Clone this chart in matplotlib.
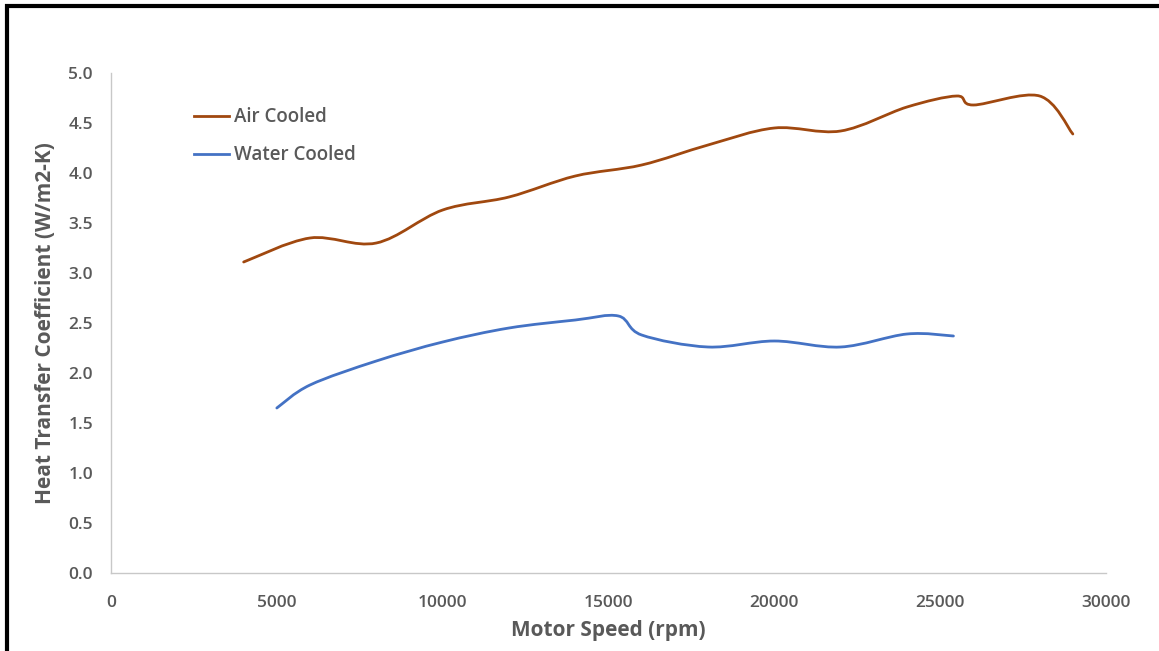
import matplotlib
matplotlib.use("Agg")
import matplotlib.pyplot as plt
from matplotlib.path import Path
from matplotlib.patches import PathPatch
from matplotlib.lines import Line2D
import numpy as np

# ---- data ----
air_speed = [4000, 6000, 8000, 10000, 12000, 14000, 16000, 18000, 20000, 22000, 24000, 25500, 26000, 28000, 29000]
air_htc = [3.11, 3.35, 3.30, 3.63, 3.76, 3.97, 4.08, 4.28, 4.45, 4.42, 4.66, 4.77, 4.68, 4.77, 4.39]
water_speed = [5000, 6000, 8000, 10000, 12000, 14000, 15300, 16000, 18000, 20000, 22000, 24000, 25400]
water_htc = [1.65, 1.88, 2.12, 2.31, 2.45, 2.53, 2.57, 2.38, 2.26, 2.32, 2.26, 2.39, 2.37]
series_names = ["Air Cooled", "Water Cooled"]
x_ticks = [0, 5000, 10000, 15000, 20000, 25000, 30000]
y_ticks = [0.0, 0.5, 1.0, 1.5, 2.0, 2.5, 3.0, 3.5, 4.0, 4.5, 5.0]

AIR_C = "#A0480F"
WATER_C = "#4472C4"
TXT_C = "#595959"
FONT = "Open Sans"

plt.rcParams['font.family'] = [FONT, 'DejaVu Sans']

W, H = 1159, 651
fig = plt.figure(figsize=(W / 100, H / 100), dpi=100)
ax = fig.add_axes([111 / W, (H - 573) / H, 995 / W, 500 / H])


def smooth_path(xs, ys):
    """Excel-like smoothed line: cubic Bezier through the points."""
    pts = np.column_stack([xs, ys]).astype(float)
    n = len(pts)
    verts = [tuple(pts[0])]
    codes = [Path.MOVETO]
    for i in range(n - 1):
        p0 = pts[i - 1] if i > 0 else pts[i]
        p1 = pts[i]
        p2 = pts[i + 1]
        p3 = pts[i + 2] if i + 2 < n else pts[i + 1]
        c1 = p1 + (p2 - p0) / 6.0
        c2 = p2 - (p3 - p1) / 6.0
        verts += [tuple(c1), tuple(c2), tuple(p2)]
        codes += [Path.CURVE4] * 3
    return Path(verts, codes)


for xs, ys, c in [(air_speed, air_htc, AIR_C), (water_speed, water_htc, WATER_C)]:
    patch = PathPatch(smooth_path(xs, ys), fill=False, edgecolor=c, lw=2.0,
                      capstyle='round', joinstyle='round')
    ax.add_patch(patch)

ax.set_xlim(0, 30000)
ax.set_ylim(0, 5)
ax.set_xticks(x_ticks)
ax.set_xticklabels([str(v) for v in x_ticks])
ax.set_yticks(y_ticks)
ax.set_yticklabels([f"{v:.1f}" for v in y_ticks])
for s in ["top", "right"]:
    ax.spines[s].set_visible(False)
for s in ["left", "bottom"]:
    ax.spines[s].set_color("#C8C8C8")
    ax.spines[s].set_linewidth(1.0)
ax.tick_params(axis='both', length=0, labelsize=12.5, labelcolor=TXT_C)
ax.tick_params(axis='y', pad=13)
ax.tick_params(axis='x', pad=16)
for lab in ax.get_xticklabels() + ax.get_yticklabels():
    lab.set_fontweight('semibold')

ax.set_xlabel("Motor Speed (rpm)", fontsize=15, fontweight='bold', color=TXT_C, labelpad=6)
ax.set_ylabel("Heat Transfer Coefficient (W/m2-K)", fontsize=15, fontweight='bold', color=TXT_C, labelpad=9)

handles = [Line2D([], [], color=AIR_C, lw=2.0), Line2D([], [], color=WATER_C, lw=2.0)]
leg = ax.legend(handles, series_names, loc='upper left', bbox_to_anchor=(0.066, 0.965),
                frameon=False, fontsize=13.5, handlelength=1.9, handletextpad=0.25,
                labelspacing=0.95)
for t in leg.get_texts():
    t.set_color(TXT_C)
    t.set_fontweight('semibold')

# outer black frame (top and left edges)
fig.add_artist(Line2D([5 / W, 1.0], [1 - 5.5 / H, 1 - 5.5 / H], transform=fig.transFigure,
                      color="black", lw=3.0, solid_capstyle='butt'))
fig.add_artist(Line2D([6.5 / W, 6.5 / W], [0, 1 - 4 / H], transform=fig.transFigure,
                      color="black", lw=3.0, solid_capstyle='butt'))

fig.savefig("out.png", dpi=100)
